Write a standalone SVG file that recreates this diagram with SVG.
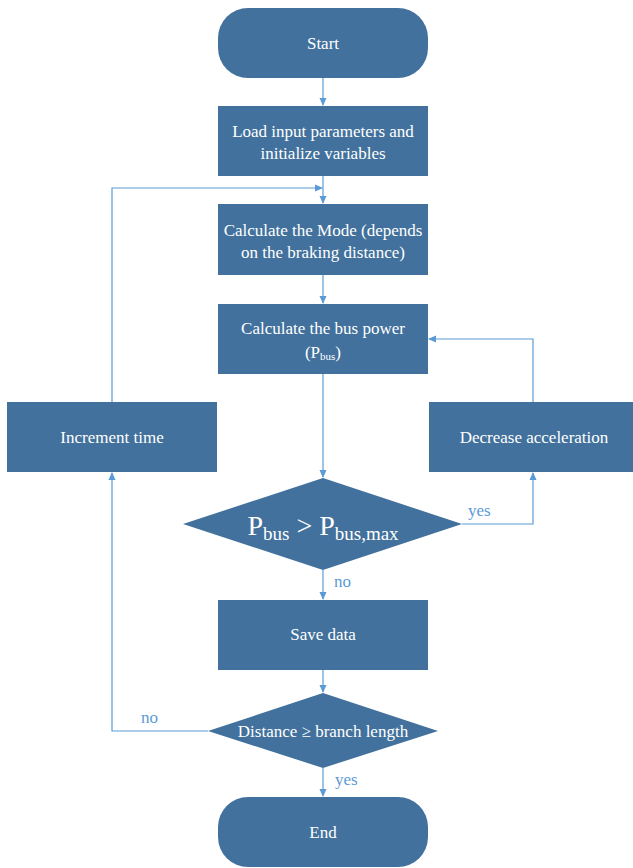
<svg xmlns="http://www.w3.org/2000/svg" width="633" height="868" viewBox="0 0 633 868" font-family="'Liberation Serif', 'Times New Roman', 'DejaVu Serif', serif">
<style>
.n{fill:#41719C;}
.t{fill:#fff;font-family:'Liberation Serif','Times New Roman',serif;font-size:17px;text-anchor:middle;}
.c{fill:none;stroke:#5B9BD5;stroke-width:1.2;}
.l{fill:#5B9BD5;font-family:'Liberation Serif','Times New Roman',serif;font-size:17px;}
</style>
<defs>
<marker id="a" markerWidth="8" markerHeight="8" refX="7" refY="4" orient="auto" markerUnits="userSpaceOnUse">
<path d="M0,0.5 L8,4 L0,7.5 Z" fill="#5B9BD5"/>
</marker>
</defs>
<rect width="633" height="868" fill="#fff"/>
<g id="connectors">
<path class="c" d="M323,78 V105" marker-end="url(#a)"/>
<path class="c" d="M323,176 V203" marker-end="url(#a)"/>
<path class="c" d="M112,402 V188 H322" marker-end="url(#a)"/>
<path class="c" d="M323,275 V303" marker-end="url(#a)"/>
<path class="c" d="M323,374 V477" marker-end="url(#a)"/>
<path class="c" d="M462,524 H533 V473" marker-end="url(#a)"/>
<path class="c" d="M533,402 V339 H429" marker-end="url(#a)"/>
<path class="c" d="M323,570 V599" marker-end="url(#a)"/>
<path class="c" d="M323,670 V692" marker-end="url(#a)"/>
<path class="c" d="M208,731 H112 V473" marker-end="url(#a)"/>
<path class="c" d="M323,768 V796" marker-end="url(#a)"/>
<text class="l" x="468" y="516">yes</text>
<text class="l" x="334" y="587">no</text>
<text class="l" x="141" y="723">no</text>
<text class="l" x="335" y="785">yes</text>
</g>
<g id="start"><rect class="n" x="218" y="8" width="210" height="70" rx="30"/><text class="t" x="323" y="49">Start</text></g>
<g id="load"><rect class="n" x="218" y="106" width="210" height="70"/><text class="t" x="323" y="137">Load input parameters and</text><text class="t" x="323" y="159">initialize variables</text></g>
<g id="mode"><rect class="n" x="218" y="204" width="210" height="71"/><text class="t" x="323" y="236">Calculate the Mode (depends</text><text class="t" x="323" y="258">on the braking distance)</text></g>
<g id="bus"><rect class="n" x="218" y="304" width="210" height="70"/><text class="t" x="323" y="334">Calculate the bus power</text><text class="t" x="323" y="358">(P<tspan style="font-size:11px" dy="2">bus</tspan><tspan dy="-2">)</tspan></text></g>
<g id="increment"><rect class="n" x="7" y="402" width="210" height="70"/><text class="t" x="112" y="443">Increment time</text></g>
<g id="decrease"><rect class="n" x="429" y="402" width="210" height="70"/><text class="t" x="534" y="443">Decrease acceleration</text></g>
<g id="check1"><path class="n" d="M323,478 L462,524 L323,570 L183,524 Z"/><text class="t" x="323" y="535" style="font-size:28px">P<tspan style="font-size:19px" dy="5">bus</tspan><tspan dy="-5"> &gt; P</tspan><tspan style="font-size:19px" dy="5">bus,max</tspan></text></g>
<g id="save"><rect class="n" x="218" y="600" width="210" height="70"/><text class="t" x="323" y="640">Save data</text></g>
<g id="check2"><path class="n" d="M323,693 L438,731 L323,768 L208,731 Z"/><text class="t" x="323" y="737">Distance ≥ branch length</text></g>
<g id="end"><rect class="n" x="218" y="797" width="210" height="70" rx="30"/><text class="t" x="323" y="838">End</text></g>
</svg>
